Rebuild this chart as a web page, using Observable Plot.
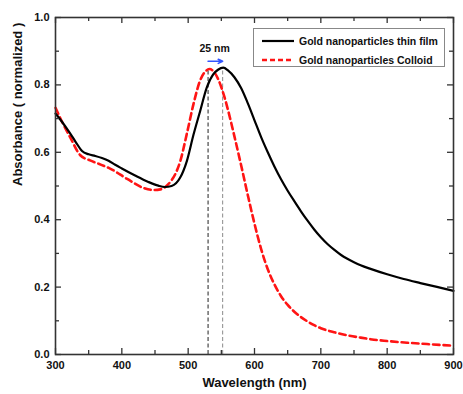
<!DOCTYPE html>
<html><head><meta charset="utf-8">
<script src="https://cdn.jsdelivr.net/npm/d3@7"></script>
<script src="https://cdn.jsdelivr.net/npm/@observablehq/plot@0.6"></script>
<style>
body{margin:0;background:#fff;}
#wrap{position:relative;width:463px;height:394px;font-family:"Liberation Sans",Arial,sans-serif;}
.legend{position:absolute;left:253px;top:28px;width:190px;height:37px;border:1px solid #888;background:#fff;font-weight:bold;font-size:10.5px;color:#111;}
.row{position:absolute;left:8px;height:14px;display:flex;align-items:center;}
.row svg{margin-right:5px;}
</style>
</head><body>
<div id="wrap"></div>
<script>
const filmWl  = [300,310,320,330,340,350,360,370,380,390,400,420,440,455,465,475,488,498,508,518,528,538,545,553,560,570,580,590,600,610,620,630,640,650,660,670,680,690,700,710,720,730,740,750,760,775,800,825,850,875,900];
const filmAbs = [0.715,0.69,0.662,0.632,0.604,0.594,0.589,0.583,0.575,0.563,0.552,0.531,0.512,0.501,0.497,0.500,0.525,0.574,0.652,0.722,0.792,0.832,0.845,0.851,0.843,0.822,0.790,0.745,0.695,0.645,0.600,0.558,0.520,0.486,0.455,0.425,0.397,0.371,0.348,0.328,0.311,0.296,0.284,0.274,0.265,0.254,0.238,0.224,0.212,0.2005,0.189];
const colloidWl  = [300,310,322,337,352,365,383,408,433,448,458,466,473,481,488,498,508,518,526,532,540,545,550,555,560,570,580,590,600,610,620,630,640,650,660,670,680,690,700,720,740,760,780,800,830,860,900];
const colloidAbs = [0.732,0.69,0.645,0.592,0.576,0.566,0.551,0.521,0.494,0.488,0.490,0.498,0.512,0.537,0.573,0.655,0.743,0.813,0.840,0.847,0.836,0.818,0.793,0.762,0.726,0.645,0.560,0.472,0.388,0.313,0.253,0.208,0.173,0.147,0.127,0.111,0.098,0.087,0.078,0.066,0.057,0.050,0.044,0.040,0.035,0.031,0.026];
const xTicks = [300,400,500,600,700,800,900];
const xMinor = [350,450,550,650,750,850];
const yTicks = [0,0.2,0.4,0.6,0.8,1.0];
const yMinor = [0.1,0.3,0.5,0.7,0.9];
const peakWl  = [530, 552];
const peakAbs = [0.847, 0.850];
const arrowAbs = 0.87;
const shiftText = "25 nm";
const shiftTextWl = 540;
const shiftTextAbs = 0.907;
const seriesNames = ["Gold nanoparticles thin film", "Gold nanoparticles Colloid"];
const xLabel = "Wavelength (nm)";
const yLabel = "Absorbance ( normalized )";

const film = filmWl.map((x,i)=>({x, y: filmAbs[i]}));
const colloid = colloidWl.map((x,i)=>({x, y: colloidAbs[i]}));
const peaks = peakWl.map((x,i)=>({x, y2: peakAbs[i], i}));

const W = 463, H = 394, mL = 55, mR = 10, mT = 17, mB = 40;
const pw = W - mL - mR, ph = H - mT - mB;
const tc = "#333";

const chart = Plot.plot({
  width: W, height: H, marginLeft: mL, marginRight: mR, marginTop: mT, marginBottom: mB,
  x: {domain: [300, 900], label: null},
  y: {domain: [0, 1], label: null},
  style: {fontFamily: '"Liberation Sans", Arial, sans-serif', fontWeight: "bold", fontSize: "11px", color: "#111", background: "#fff"},
  marks: [
    Plot.ruleX(peaks, {x: "x", y1: 0, y2: "y2", stroke: d => d.i ? "#8a8a8a" : "#222", strokeWidth: 1, strokeDasharray: "4,2.5"}),
    Plot.line(colloid, {x: "x", y: "y", stroke: "#ff1414", strokeWidth: 2.6, strokeDasharray: "6.5,4", curve: "monotone-x"}),
    Plot.line(film, {x: "x", y: "y", stroke: "#000", strokeWidth: 2.2, curve: "monotone-x"}),
    Plot.arrow([{x1: peakWl[0], x2: peakWl[1]}], {x1: "x1", x2: "x2", y1: arrowAbs, y2: arrowAbs, stroke: "#3355ff", strokeWidth: 1.6, headLength: 7, headAngle: 50}),
    Plot.text([shiftText], {x: shiftTextWl, y: shiftTextAbs, text: d => d, fontSize: 10.5, fill: "#111"}),
    Plot.tickX(xTicks, {x: d => d, insetTop: ph - 6, stroke: tc, strokeWidth: 1.3}),
    Plot.tickX(xMinor, {x: d => d, insetTop: ph - 4, stroke: tc, strokeWidth: 1.3}),
    Plot.tickX(xTicks, {x: d => d, insetBottom: ph - 6, stroke: tc, strokeWidth: 1.3}),
    Plot.tickX(xMinor, {x: d => d, insetBottom: ph - 4, stroke: tc, strokeWidth: 1.3}),
    Plot.tickY(yTicks, {y: d => d, insetRight: pw - 6, stroke: tc, strokeWidth: 1.3}),
    Plot.tickY(yMinor, {y: d => d, insetRight: pw - 4, stroke: tc, strokeWidth: 1.3}),
    Plot.tickY(yTicks, {y: d => d, insetLeft: pw - 6, stroke: tc, strokeWidth: 1.3}),
    Plot.tickY(yMinor, {y: d => d, insetLeft: pw - 4, stroke: tc, strokeWidth: 1.3}),
    Plot.frame({stroke: tc, strokeWidth: 1.6}),
    Plot.axisX({ticks: xTicks, tickSize: 0, tickPadding: 7, tickFormat: d => String(d), fontSize: 11, fill: "#111"}),
    Plot.axisY({ticks: yTicks, tickSize: 0, tickPadding: 6, tickFormat: d3.format(".1f"), fontSize: 11, fill: "#111"}),
    Plot.text([xLabel], {frameAnchor: "bottom", dy: 32, text: d => d, fontSize: 13, fill: "#111"}),
    Plot.text([yLabel], {frameAnchor: "left", dx: -38, rotate: -90, text: d => d, fontSize: 13, fill: "#111"})
  ]
});
const wrap = document.getElementById("wrap");
wrap.appendChild(chart);

const leg = document.createElement("div");
leg.className = "legend";
const styles = [{stroke: "#000", dash: "", w: 2.2}, {stroke: "#ff1414", dash: "5,3", w: 2.6}];
seriesNames.forEach((name, i) => {
  const row = document.createElement("div");
  row.className = "row";
  row.style.top = (i === 0 ? 5 : 24) + "px";
  const s = styles[i];
  row.innerHTML = `<svg width="32" height="8"><line x1="0" x2="32" y1="4" y2="4" stroke="${s.stroke}" stroke-width="${s.w}" stroke-dasharray="${s.dash}"/></svg><span>${name}</span>`;
  leg.appendChild(row);
});
wrap.appendChild(leg);
</script>
</body></html>
